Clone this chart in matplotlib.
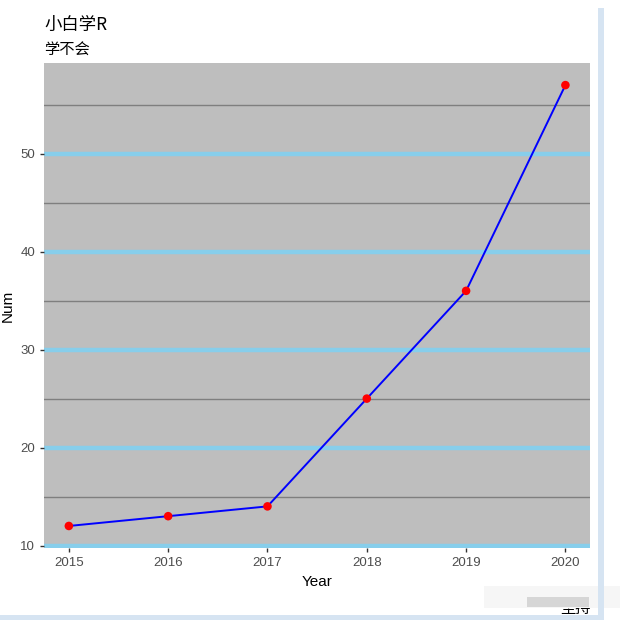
import matplotlib
matplotlib.use("Agg")
import matplotlib.pyplot as plt
from matplotlib.patches import Rectangle

plt.rcParams['font.family'] = ['Liberation Sans', 'Noto Sans CJK SC', 'DejaVu Sans']

# data
years = [2015, 2016, 2017, 2018, 2019, 2020]
num = [12, 13, 14, 25, 36, 57]
major_y = [10, 20, 30, 40, 50]
minor_y = [15, 25, 35, 45, 55]

fig = plt.figure(figsize=(6.2, 6.37), dpi=100)
ax = fig.add_axes([0.071, 0.1397, 0.881, 0.7613])

ax.set_facecolor('#BEBEBE')
ax.set_xlim(2014.75, 2020.25)
ax.set_ylim(9.75, 59.25)

# grid lines: minor grey, major skyblue
for v in minor_y:
    ax.axhline(v, color='#7F7F7F', lw=1.0, zorder=1)
for v in major_y:
    ax.axhline(v, color='#87CEEB', lw=3.2, zorder=1)

ax.plot(years, num, color='blue', lw=1.4, zorder=3)
ax.scatter(years, num, color='red', s=38, zorder=4, edgecolors='none')

ax.set_xticks(years)
ax.set_xticklabels([str(y) for y in years])
ax.set_yticks(major_y)
for s in ax.spines.values():
    s.set_visible(False)
ax.tick_params(colors='#333333', labelcolor='#4D4D4D', labelsize=9.5, length=3, width=1)

ax.set_xlabel('Year', fontsize=11, color='black', labelpad=4)
ax.set_ylabel('Num', fontsize=11, color='black', labelpad=4)

fig.text(0.071, 0.961, '小白学R', fontsize=12.5, ha='left', va='center',
         family=['Noto Sans CJK SC', 'DejaVu Sans'])
fig.text(0.071, 0.921, '学不会', fontsize=11, ha='left', va='center',
         family=['Noto Sans CJK SC', 'DejaVu Sans'])

# caption, partly hidden by a watermark
fig.text(0.952, 0.045, '坚持', fontsize=11, ha='right', va='center',
         family=['Noto Sans CJK SC', 'DejaVu Sans'])
fig.patches.append(Rectangle((0.78, 0.045), 0.22, 0.035, transform=fig.transFigure,
                             facecolor='#F6F6F6', edgecolor='none', zorder=5))
fig.patches.append(Rectangle((0.85, 0.047), 0.1, 0.016, transform=fig.transFigure,
                             facecolor='#D6D6D6', edgecolor='none', zorder=6))

# screenshot frame
fig.patches.append(Rectangle((598 / 620, 17 / 637), 6 / 620, 612 / 637, transform=fig.transFigure,
                             facecolor='#D6E4F2', edgecolor='none', zorder=7))
fig.patches.append(Rectangle((0, 17 / 637), 604 / 620, 5 / 637, transform=fig.transFigure,
                             facecolor='#D6E4F2', edgecolor='none', zorder=7))

fig.savefig('out.png', dpi=100)
